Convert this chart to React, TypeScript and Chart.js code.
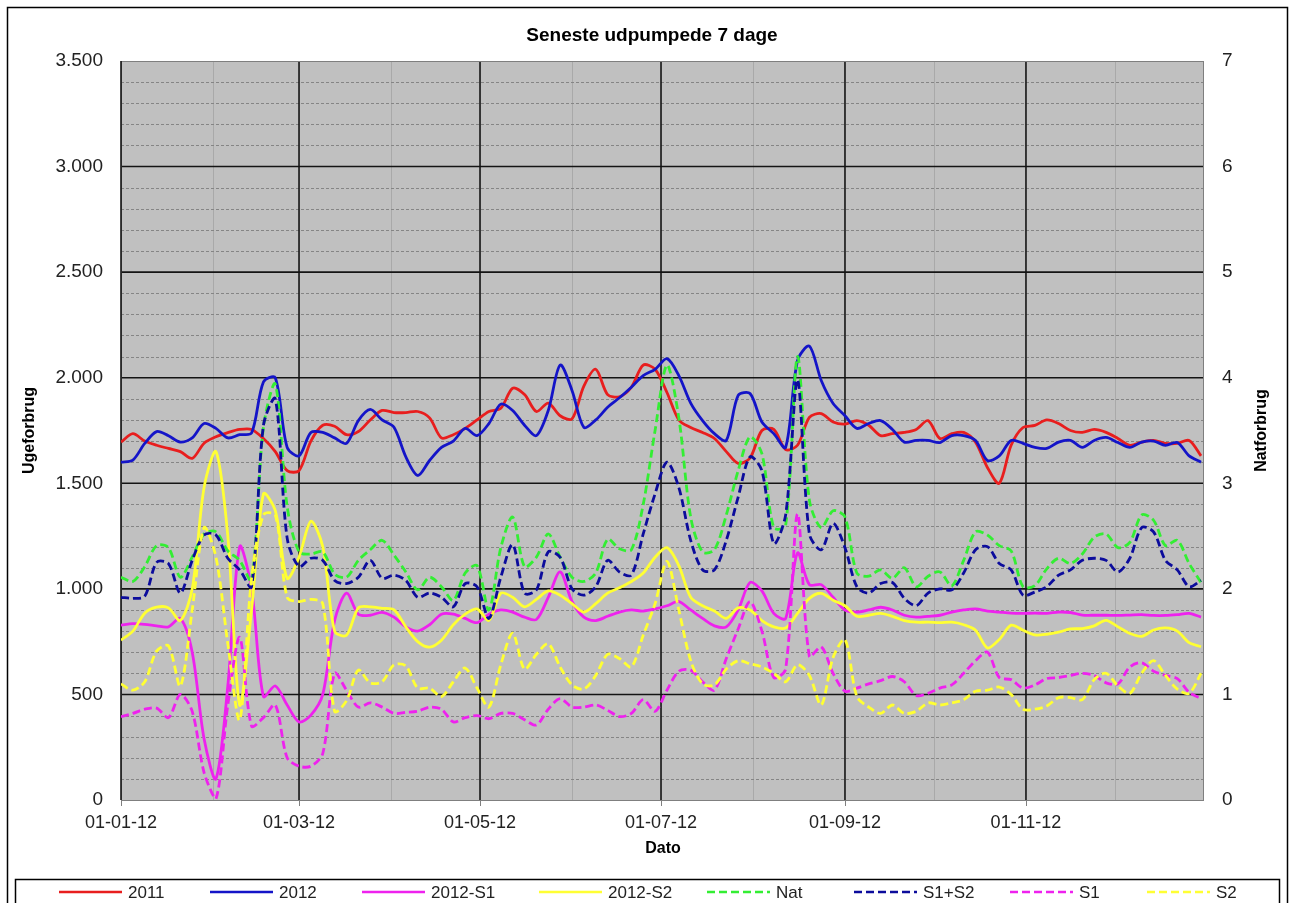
import React, { useEffect, useRef } from "react";
import { Chart, registerables } from "chart.js";

Chart.register(...registerables);

// Day of year 2012 (0 = 01-01-12)
const days = [
  0, 4, 8, 12, 16, 20, 24, 28, 32, 36,
  40, 44, 48, 52, 56, 60, 64, 68, 72, 76,
  80, 84, 88, 92, 96, 100, 104, 108, 112, 116,
  120, 124, 128, 132, 136, 140, 144, 148, 152, 156,
  160, 164, 168, 172, 176, 180, 184, 188, 192, 196,
  200, 204, 208, 212, 216, 220, 224, 228, 232, 236,
  240, 244, 248, 252, 256, 260, 264, 268, 272, 276,
  280, 284, 288, 292, 296, 300, 304, 308, 312, 316,
  320, 324, 328, 332, 336, 340, 344, 348, 352, 356,
  360, 364,
];

const tickDays = [0, 60, 121, 182, 244, 305];
const tickLabels = ["01-01-12", "01-03-12", "01-05-12", "01-07-12", "01-09-12", "01-11-12"];
const minorMonthDays = [31, 91, 152, 213, 274, 335];
const leftTicks = [0, 500, 1000, 1500, 2000, 2500, 3000, 3500];
const rightTicks = [0, 1, 2, 3, 4, 5, 6, 7];

// Ugeforbrug (left axis)
const s2011 = [
  1695, 1735, 1700, 1680, 1665, 1650, 1618, 1690, 1720, 1740,
  1755, 1755, 1712, 1650, 1560, 1560, 1700, 1775, 1770, 1730,
  1745, 1800, 1845, 1835, 1835, 1840, 1810, 1715, 1730, 1760,
  1800, 1840, 1855, 1950, 1920, 1840, 1880, 1820, 1805, 1960,
  2040, 1920, 1910, 1955, 2060, 2040, 1930, 1800, 1764, 1741,
  1712, 1650, 1594, 1620, 1750, 1755, 1660, 1680, 1812, 1830,
  1790, 1780, 1797, 1775, 1726, 1735, 1741, 1755, 1797, 1712,
  1735, 1741, 1695, 1575, 1500, 1680, 1764, 1774, 1800, 1783,
  1750, 1741, 1755, 1741, 1712, 1680, 1695, 1703, 1689, 1689,
  1703, 1630,
];
const s2012 = [
  1600, 1610, 1689, 1745, 1725, 1695, 1715, 1783, 1760, 1715,
  1730, 1738, 1980, 2000, 1670, 1630, 1741, 1741, 1715, 1689,
  1797, 1850, 1800, 1765, 1625, 1537, 1608, 1670, 1700, 1760,
  1726, 1783, 1875, 1845, 1775, 1726, 1845, 2060, 1940, 1765,
  1800, 1860, 1905, 1955, 2010, 2040, 2090, 2010, 1880, 1797,
  1735, 1703, 1916, 1925, 1790, 1735, 1670, 2081, 2150, 1987,
  1878, 1820, 1760, 1783, 1797, 1755, 1695, 1703, 1703, 1693,
  1726, 1726, 1703, 1608, 1630, 1703, 1689, 1670, 1665, 1695,
  1703, 1670, 1703, 1717, 1693, 1670, 1695, 1700, 1680, 1693,
  1630, 1600,
];
const s2012S1 = [
  828, 835, 832, 825, 820, 860, 700, 290, 100, 540,
  1200, 1000, 490, 540, 450, 370, 402, 500, 850, 980,
  880, 875, 889, 866, 820, 800, 830, 880, 880, 860,
  840, 880, 900, 890, 866, 855, 960, 1080, 940, 866,
  850, 870, 890, 900, 895, 905, 920, 940, 900, 860,
  825, 820, 900, 1030, 990, 884, 860, 1170, 1020, 1020,
  960, 900, 890, 900, 913, 900, 875, 866, 870, 875,
  890, 900, 905, 895, 890, 885, 884, 885, 884, 890,
  888, 876, 875, 875, 874, 876, 878, 874, 874, 878,
  884, 866,
];
const s2012S2 = [
  757, 800, 885, 913, 910, 850, 1000, 1480, 1650, 1250,
  450, 900, 1450, 1370, 1050, 1150, 1320, 1200, 800, 780,
  910, 915, 908, 900, 820, 750, 724, 757, 830, 880,
  905, 851, 979, 960, 915, 950, 990, 970, 930, 890,
  930, 980, 1005, 1035, 1075, 1150, 1195, 1110, 960, 920,
  895, 860, 910, 900, 850, 820, 815, 884, 955, 979,
  946, 920, 870, 875, 884, 870, 850, 842, 842, 840,
  842, 830, 804, 720, 760, 828, 804, 782, 785, 795,
  810, 812, 825, 851, 820, 789, 775, 805, 815, 800,
  745, 726,
];

// Natforbrug (right axis)
const sNat = [
  2.11, 2.07, 2.21, 2.41, 2.39, 2.11, 2.30, 2.52, 2.54, 2.36,
  2.27, 2.08, 3.53, 3.94, 2.78, 2.35, 2.33, 2.35, 2.14, 2.11,
  2.27, 2.37, 2.46, 2.32, 2.16, 1.99, 2.11, 2.02, 1.89, 2.15,
  2.22, 1.80, 2.39, 2.68, 2.21, 2.30, 2.52, 2.30, 2.11, 2.07,
  2.15, 2.47, 2.38, 2.37, 2.80, 3.50, 4.12, 3.62, 2.68, 2.35,
  2.37, 2.70, 3.12, 3.44, 3.28, 2.58, 2.60, 4.20, 2.84, 2.58,
  2.74, 2.68, 2.15, 2.12, 2.18, 2.10, 2.20, 2.02, 2.12, 2.16,
  2.03, 2.27, 2.54, 2.51, 2.41, 2.36, 2.02, 2.03, 2.19, 2.29,
  2.24, 2.33, 2.49, 2.52, 2.39, 2.44, 2.70, 2.65, 2.41, 2.46,
  2.24, 2.06,
];
const sS1S2 = [
  1.92, 1.91, 1.93, 2.25, 2.24, 1.96, 2.27, 2.51, 2.51, 2.29,
  2.18, 2.02, 3.55, 3.80, 2.48, 2.21, 2.29, 2.27, 2.08, 2.05,
  2.11, 2.27, 2.10, 2.13, 2.08, 1.92, 1.96, 1.92, 1.83, 2.05,
  2.02, 1.72, 2.11, 2.42, 1.96, 1.99, 2.35, 2.30, 2.00, 1.94,
  2.02, 2.27, 2.16, 2.13, 2.52, 2.90, 3.20, 2.96, 2.46, 2.18,
  2.18, 2.46, 2.87, 3.25, 3.12, 2.43, 2.70, 3.98, 2.52, 2.37,
  2.62, 2.39, 2.02, 1.96, 2.05, 2.06, 1.91, 1.84, 1.96, 2.00,
  1.99, 2.15, 2.37, 2.40, 2.24, 2.18, 1.94, 1.97, 2.02, 2.13,
  2.18, 2.27, 2.29, 2.27, 2.16, 2.29, 2.58, 2.54, 2.27, 2.18,
  2.02, 2.08,
];
const sS1 = [
  0.79, 0.82, 0.86, 0.87, 0.78, 1.00, 0.84, 0.26, 0.01, 0.90,
  1.54, 0.70, 0.78, 0.90, 0.40, 0.32, 0.32, 0.44, 1.20, 1.04,
  0.88, 0.92, 0.88, 0.82, 0.83, 0.84, 0.88, 0.86, 0.74, 0.78,
  0.80, 0.77, 0.82, 0.82, 0.76, 0.71, 0.86, 0.96, 0.88, 0.88,
  0.90, 0.85, 0.79, 0.82, 0.95, 0.84, 1.04, 1.22, 1.23, 1.12,
  1.04, 1.34, 1.62, 1.88, 1.60, 1.16, 1.24, 2.71, 1.36, 1.45,
  1.20, 1.03, 1.06, 1.10, 1.13, 1.17, 1.12, 0.99, 1.01, 1.06,
  1.09, 1.20, 1.32, 1.40, 1.16, 1.14, 1.06, 1.09, 1.15, 1.16,
  1.18, 1.20, 1.18, 1.11, 1.10, 1.26, 1.30, 1.22, 1.18, 1.15,
  1.02, 0.96,
];
const sS2 = [
  1.10, 1.04, 1.12, 1.41, 1.46, 1.08, 1.80, 2.58, 2.30, 1.48,
  0.76, 2.10, 2.70, 2.70, 1.92, 1.88, 1.90, 1.86, 0.84, 0.94,
  1.23, 1.11, 1.12, 1.28, 1.27, 1.06, 1.06, 0.98, 1.12, 1.25,
  1.06, 0.88, 1.28, 1.58, 1.24, 1.38, 1.48, 1.26, 1.09, 1.05,
  1.18, 1.38, 1.34, 1.26, 1.56, 1.86, 2.26, 1.80, 1.32, 1.10,
  1.09, 1.24, 1.32, 1.29, 1.26, 1.20, 1.12, 1.28, 1.18, 0.90,
  1.35, 1.52, 0.98, 0.88, 0.82, 0.90, 0.82, 0.84, 0.92, 0.90,
  0.92, 0.95, 1.03, 1.04, 1.07, 1.00, 0.86, 0.86, 0.89, 0.97,
  0.97, 0.95, 1.14, 1.20, 1.08, 1.01, 1.20, 1.32, 1.18, 1.05,
  1.01, 1.20,
];

const FONT = '"Liberation Sans", Arial, Helvetica, sans-serif';

const legendLineX = [59, 210, 362, 539, 707, 854, 1010, 1147];

function fmtThousands(v: number): string {
  if (v >= 1000) {
    const k = Math.floor(v / 1000);
    const r = v % 1000;
    return `${k}.${String(r).padStart(3, "0")}`;
  }
  return String(v);
}

const decor = {
  id: "decor",
  beforeDraw(chart: any) {
    const { ctx, chartArea: a } = chart;
    ctx.save();
    ctx.fillStyle = "#ffffff";
    ctx.fillRect(0, 0, chart.width, chart.height);
    ctx.fillStyle = "#c0c0c0";
    ctx.fillRect(a.left, a.top, a.right - a.left, a.bottom - a.top);
    ctx.restore();
  },
  beforeDatasetsDraw(chart: any) {
    const { ctx, chartArea: a, scales } = chart;
    const xs = scales.x;
    const ys = scales.y;
    ctx.save();
    const hline = (py: number) => {
      ctx.beginPath();
      ctx.moveTo(a.left, py);
      ctx.lineTo(a.right, py);
      ctx.stroke();
    };
    const vline = (px: number) => {
      ctx.beginPath();
      ctx.moveTo(px, a.top);
      ctx.lineTo(px, a.bottom);
      ctx.stroke();
    };
    ctx.strokeStyle = "#a9a9a9";
    ctx.lineWidth = 1;
    minorMonthDays.forEach((d) => vline(Math.round(xs.getPixelForValue(d)) + 0.5));
    ctx.strokeStyle = "#858585";
    ctx.setLineDash([3, 2]);
    for (let v = 100; v < 3500; v += 100) {
      if (v % 500 === 0) continue;
      hline(Math.round(ys.getPixelForValue(v)) + 0.5);
    }
    ctx.setLineDash([]);
    ctx.strokeStyle = "#141414";
    ctx.lineWidth = 1.6;
    leftTicks.forEach((v) => {
      if (v === 0 || v === 3500) return;
      hline(ys.getPixelForValue(v));
    });
    tickDays.forEach((d) => {
      if (d === 0) return;
      vline(xs.getPixelForValue(d));
    });
    ctx.strokeStyle = "#7f7f7f";
    ctx.lineWidth = 1;
    ctx.strokeRect(a.left + 0.5, a.top + 0.5, a.right - a.left - 1, a.bottom - a.top);
    ctx.strokeStyle = "#141414";
    ctx.lineWidth = 1.6;
    ctx.beginPath();
    ctx.moveTo(a.left, a.top);
    ctx.lineTo(a.left, a.bottom);
    ctx.stroke();
    ctx.strokeStyle = "#7f7f7f";
    ctx.lineWidth = 1;
    tickDays.forEach((d) => {
      const px = Math.round(xs.getPixelForValue(d)) + 0.5;
      ctx.beginPath();
      ctx.moveTo(px, a.bottom);
      ctx.lineTo(px, a.bottom + 6);
      ctx.stroke();
    });
    ctx.restore();
  },
  afterDraw(chart: any) {
    const { ctx, chartArea: a } = chart;
    ctx.save();
    ctx.fillStyle = "#000";
    ctx.textAlign = "center";
    ctx.textBaseline = "middle";
    ctx.font = `bold 19px ${FONT}`;
    ctx.fillText("Seneste udpumpede 7 dage", 652, 36);
    ctx.font = `bold 16px ${FONT}`;
    ctx.fillText("Dato", 663, 849);
    ctx.save();
    ctx.translate(30, (a.top + a.bottom) / 2);
    ctx.rotate(-Math.PI / 2);
    ctx.fillText("Ugeforbrug", 0, 0);
    ctx.restore();
    ctx.save();
    ctx.translate(1262, (a.top + a.bottom) / 2);
    ctx.rotate(-Math.PI / 2);
    ctx.fillText("Natforbrug", 0, 0);
    ctx.restore();
    ctx.strokeStyle = "#000";
    ctx.lineWidth = 1.5;
    ctx.strokeRect(7.5, 7.5, 1280, 905);
    ctx.strokeRect(15.5, 879.5, 1264, 30);
    ctx.font = `17px ${FONT}`;
    ctx.textAlign = "left";
    ctx.fillStyle = "#222";
    const ly = 892;
    chart.data.datasets.forEach((ds: any, i: number) => {
      const x0 = legendLineX[i];
      ctx.strokeStyle = ds.borderColor;
      ctx.lineWidth = 2.6;
      ctx.setLineDash(ds.borderDash || []);
      ctx.beginPath();
      ctx.moveTo(x0, ly);
      ctx.lineTo(x0 + 63, ly);
      ctx.stroke();
      ctx.setLineDash([]);
      ctx.fillText(ds.label, x0 + 69, ly + 1);
    });
    ctx.restore();
  },
};

export default function App() {
  const ref = useRef<HTMLCanvasElement | null>(null);

  useEffect(() => {
    document.body.style.margin = "0";
    const canvas = ref.current;
    if (!canvas) return;
    const pts = (arr: number[]) => arr.map((v, i) => ({ x: days[i], y: v }));
    const dash = [8, 4];
    const defs = [
      { label: "2011", data: pts(s2011), borderColor: "#e81e1e", yAxisID: "y" },
      { label: "2012", data: pts(s2012), borderColor: "#1414c8", yAxisID: "y" },
      { label: "2012-S1", data: pts(s2012S1), borderColor: "#ee22ee", yAxisID: "y" },
      { label: "2012-S2", data: pts(s2012S2), borderColor: "#ffff33", yAxisID: "y" },
      { label: "Nat", data: pts(sNat), borderColor: "#33ee33", yAxisID: "y2", borderDash: dash },
      { label: "S1+S2", data: pts(sS1S2), borderColor: "#0c0c9c", yAxisID: "y2", borderDash: dash },
      { label: "S1", data: pts(sS1), borderColor: "#ee22ee", yAxisID: "y2", borderDash: dash },
      { label: "S2", data: pts(sS2), borderColor: "#ffff33", yAxisID: "y2", borderDash: dash },
    ];
    const datasets = defs.map((d, i) => ({
      ...d,
      borderWidth: 2.8,
      pointRadius: 0,
      tension: 0.3,
      fill: false,
      order: 10 - i,
    }));

    const chart = new Chart(canvas, {
      type: "line",
      data: { datasets },
      plugins: [decor],
      options: {
        responsive: false,
        animation: false,
        events: [],
        layout: { padding: { top: 61, left: 0, right: 0, bottom: 0 } },
        plugins: {
          legend: { display: false },
          title: { display: false },
          tooltip: { enabled: false },
        },
        scales: {
          x: {
            type: "linear",
            min: 0,
            max: 365,
            grid: { display: false, drawTicks: false },
            border: { display: false },
            afterBuildTicks: (s: any) => {
              s.ticks = tickDays.map((v) => ({ value: v }));
            },
            afterFit: (s: any) => {
              s.height = 103;
            },
            ticks: {
              autoSkip: false,
              maxRotation: 0,
              minRotation: 0,
              padding: 12,
              color: "#222",
              font: { family: FONT, size: 18 },
              callback: (v: any) => {
                const idx = tickDays.indexOf(Number(v));
                return idx >= 0 ? tickLabels[idx] : "";
              },
            },
          },
          y: {
            position: "left",
            min: 0,
            max: 3500,
            grid: { display: false, drawTicks: false },
            border: { display: false },
            afterBuildTicks: (s: any) => {
              s.ticks = leftTicks.map((v) => ({ value: v }));
            },
            afterFit: (s: any) => {
              s.width = 121;
            },
            ticks: {
              padding: 18,
              color: "#222",
              font: { family: FONT, size: 19 },
              callback: (v: any) => fmtThousands(Number(v)),
            },
          },
          y2: {
            position: "right",
            min: 0,
            max: 7,
            grid: { display: false, drawTicks: false },
            border: { display: false },
            afterBuildTicks: (s: any) => {
              s.ticks = rightTicks.map((v) => ({ value: v }));
            },
            afterFit: (s: any) => {
              s.width = 88;
            },
            ticks: {
              padding: 18,
              color: "#222",
              font: { family: FONT, size: 19 },
              callback: (v: any) => String(v),
            },
          },
        },
      } as any,
    });
    return () => chart.destroy();
  }, []);

  return (
    <div style={{ position: "absolute", left: 0, top: 0, width: 1292, height: 903 }}>
      <canvas ref={ref} width={1292} height={903} style={{ display: "block", width: 1292, height: 903 }} />
    </div>
  );
}
